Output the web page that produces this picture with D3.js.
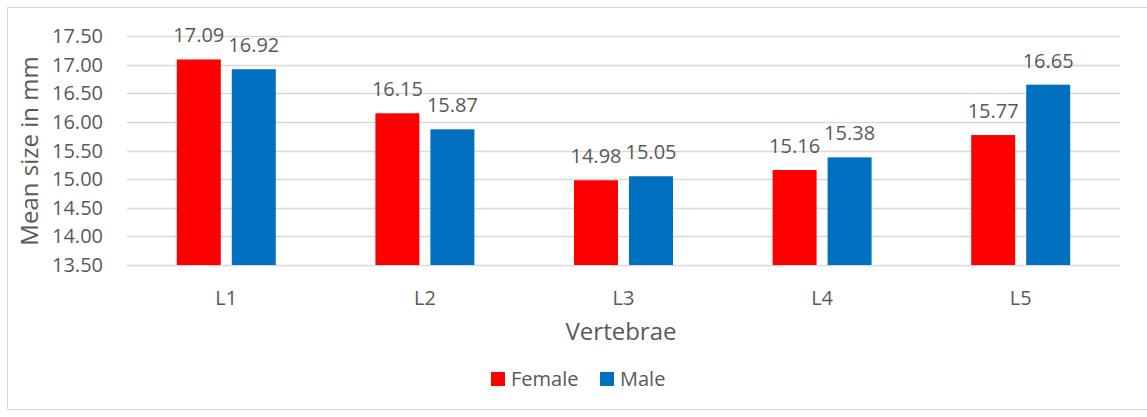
<!DOCTYPE html>
<html>
<head>
    <script src="https://d3js.org/d3.v7.min.js"></script>
    <style>
        body { margin: 0; background: #fff; }
        text { font-family: "Open Sans", "Noto Sans", sans-serif; fill: #595959; }
    </style>
</head>
<body>
    <svg width="1147" height="417"></svg>
    <script>
        var categories = ["L1", "L2", "L3", "L4", "L5"];
        var seriesNames = ["Female", "Male"];
        var female = [17.09, 16.15, 14.98, 15.16, 15.77];
        var male = [16.92, 15.87, 15.05, 15.38, 16.65];
        var yTicks = [13.5, 14, 14.5, 15, 15.5, 16, 16.5, 17, 17.5];
        var colors = ["#ff0000", "#0070c0"];

        var svg = d3.select("svg");
        var plotLeft = 127, plotRight = 1120, plotTop = 36, plotBottom = 265;

        svg.append("rect")
            .attr("x", 7.5).attr("y", 7.5)
            .attr("width", 1147).attr("height", 402)
            .attr("fill", "none").attr("stroke", "#d9d9d9");

        var x = d3.scaleBand().domain(categories).range([plotLeft, plotRight]);
        var y = d3.scaleLinear().domain([13.5, 17.5]).range([plotBottom, plotTop]);

        // gridlines
        svg.append("g").selectAll("line").data(yTicks).enter().append("line")
            .attr("x1", plotLeft).attr("x2", plotRight)
            .attr("y1", function(d) { return Math.round(y(d)) + 0.5; })
            .attr("y2", function(d) { return Math.round(y(d)) + 0.5; })
            .attr("stroke", "#d9d9d9").attr("stroke-width", 1.5);

        // y tick labels
        svg.append("g").selectAll("text").data(yTicks).enter().append("text")
            .attr("x", 103).attr("y", function(d) { return y(d); })
            .attr("dy", "0.35em")
            .attr("text-anchor", "end")
            .style("font-size", "20px")
            .text(function(d) { return d.toFixed(2); });

        var data = [];
        categories.forEach(function(c, i) {
            data.push({cat: c, s: 0, v: female[i]});
            data.push({cat: c, s: 1, v: male[i]});
        });

        var bw = 44, gap = 11;
        function bx(d) {
            var c = x(d.cat) + x.bandwidth() / 2;
            return d.s === 0 ? c - gap / 2 - bw : c + gap / 2;
        }

        svg.append("g").selectAll("rect").data(data).enter().append("rect")
            .attr("x", bx)
            .attr("y", function(d) { return y(d.v); })
            .attr("width", bw)
            .attr("height", function(d) { return y(13.5) - y(d.v); })
            .attr("fill", function(d) { return colors[d.s]; });

        svg.append("g").selectAll("text").data(data).enter().append("text")
            .attr("x", function(d) { return bx(d) + bw / 2; })
            .attr("y", function(d) { return y(d.v) - 17; })
            .attr("text-anchor", "middle")
            .style("font-size", "20px")
            .text(function(d) { return d.v.toFixed(2); });

        // x labels
        svg.append("g").selectAll("text").data(categories).enter().append("text")
            .attr("x", function(d) { return x(d) + x.bandwidth() / 2; })
            .attr("y", 305)
            .attr("text-anchor", "middle")
            .style("font-size", "20px")
            .text(function(d) { return d; });

        svg.append("text")
            .attr("x", 621).attr("y", 340)
            .attr("text-anchor", "middle")
            .style("font-size", "24px")
            .text("Vertebrae");

        svg.append("text")
            .attr("transform", "translate(38,151) rotate(-90)")
            .attr("text-anchor", "middle")
            .style("font-size", "24px")
            .text("Mean size in mm");

        // legend
        var legX = [491, 600];
        var leg = svg.append("g").selectAll("g").data(seriesNames).enter().append("g")
            .attr("transform", function(d, i) { return "translate(" + legX[i] + ",372)"; });
        leg.append("rect").attr("width", 14).attr("height", 14)
            .attr("fill", function(d, i) { return colors[i]; });
        leg.append("text").attr("x", 20).attr("y", 7).attr("dy", "0.35em")
            .style("font-size", "20px")
            .text(function(d) { return d; });
    </script>
</body>
</html>
